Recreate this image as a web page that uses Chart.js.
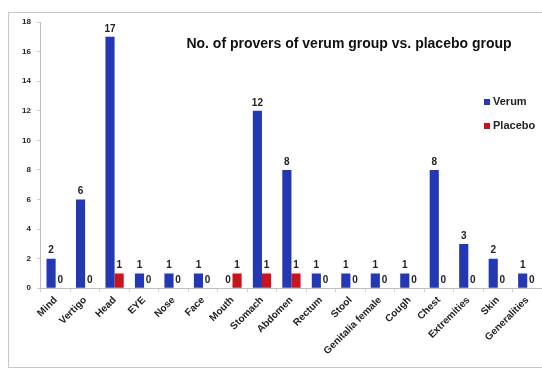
<!DOCTYPE html>
<html>
<head>
<meta charset="utf-8">
<script src="https://cdn.jsdelivr.net/npm/chart.js@4.4.0/dist/chart.umd.min.js"></script>
<style>
  html, body { margin: 0; padding: 0; background: #fff; }
  #wrap { position: absolute; left: 0; top: 0; width: 542px; height: 374px; }
  #frame { position: absolute; left: 8px; top: 12px; width: 540px; height: 356px; border: 1px solid #c8c8c8; box-sizing: border-box; }
</style>
</head>
<body>
<div id="wrap">
  <div id="frame"></div>
  <canvas id="proversChart" width="542" height="374"></canvas>
</div>
<script>
// dữ liệu biểu đồ
const categories = ['Mind', 'Vertigo', 'Head', 'EYE', 'Nose', 'Face', 'Mouth', 'Stomach', 'Abdomen',
    'Rectum', 'Stool', 'Genitalia female', 'Cough', 'Chest', 'Extremities', 'Skin', 'Generalities'];
const verum = [2, 6, 17, 1, 1, 1, 0, 12, 8, 1, 1, 1, 1, 8, 3, 2, 1];
const placebo = [0, 0, 1, 0, 0, 0, 1, 1, 1, 0, 0, 0, 0, 0, 0, 0, 0];
const yTicks = [0, 2, 4, 6, 8, 10, 12, 14, 16, 18];
const chartTitle = 'No. of provers of verum group vs. placebo group';

const BLUE = '#2438b4';
const RED = '#c8141c';
const FONT = '"Liberation Sans", Arial, sans-serif';

// nhãn giá trị trên mỗi cột
const valueLabels = {
    id: 'valueLabels',
    afterDatasetsDraw(chart) {
        const ctx = chart.ctx;
        ctx.save();
        ctx.font = 'bold 10px ' + FONT;
        ctx.fillStyle = '#222';
        ctx.textAlign = 'center';
        ctx.textBaseline = 'bottom';
        chart.data.datasets.forEach((ds, i) => {
            chart.getDatasetMeta(i).data.forEach((bar, j) => {
                ctx.fillText(String(ds.data[j]), bar.x, bar.y - 3);
            });
        });
        ctx.restore();
    }
};

// tiêu đề và chú thích kiểu Excel
const titleLegend = {
    id: 'titleLegend',
    afterDraw(chart) {
        const ctx = chart.ctx;
        ctx.save();
        ctx.font = 'bold 14px ' + FONT;
        ctx.fillStyle = '#111';
        ctx.textAlign = 'center';
        ctx.textBaseline = 'middle';
        ctx.fillText(chartTitle, 349, 44);

        ctx.font = 'bold 11px ' + FONT;
        ctx.textAlign = 'left';
        chart.data.datasets.forEach((ds, i) => {
            const y = 102 + i * 24;
            ctx.fillStyle = ds.backgroundColor;
            ctx.fillRect(484, y - 3, 6, 6);
            ctx.fillStyle = '#222';
            ctx.fillText(ds.label, 493, y);
        });
        ctx.restore();
    }
};

new Chart(document.getElementById('proversChart'), {
    type: 'bar',
    data: {
        labels: categories,
        datasets: [
            { label: 'Verum', data: verum, backgroundColor: BLUE },
            { label: 'Placebo', data: placebo, backgroundColor: RED }
        ]
    },
    options: {
        responsive: false,
        animation: false,
        layout: { padding: { left: 16, top: 22, right: 0, bottom: 15 } },
        datasets: { bar: { categoryPercentage: 0.62, barPercentage: 1 } },
        plugins: { legend: { display: false }, title: { display: false }, tooltip: { enabled: false } },
        scales: {
            x: {
                grid: { display: true, drawOnChartArea: false, color: '#cfcfcf', tickLength: 4, offset: true },
                border: { color: '#bdbdbd' },
                ticks: {
                    color: '#222',
                    font: { family: FONT, size: 10, weight: 'bold' },
                    minRotation: 45, maxRotation: 45, autoSkip: false, padding: 2
                }
            },
            y: {
                min: 0, max: 18,
                afterBuildTicks: (axis) => { axis.ticks = yTicks.map(v => ({ value: v })); },
                grid: { display: true, drawOnChartArea: false, color: '#cfcfcf', tickLength: 4 },
                border: { color: '#bdbdbd' },
                ticks: {
                    color: '#222',
                    font: { family: FONT, size: 8, weight: 'bold' },
                    padding: 6
                }
            }
        }
    },
    plugins: [valueLabels, titleLegend]
});
</script>
</body>
</html>
